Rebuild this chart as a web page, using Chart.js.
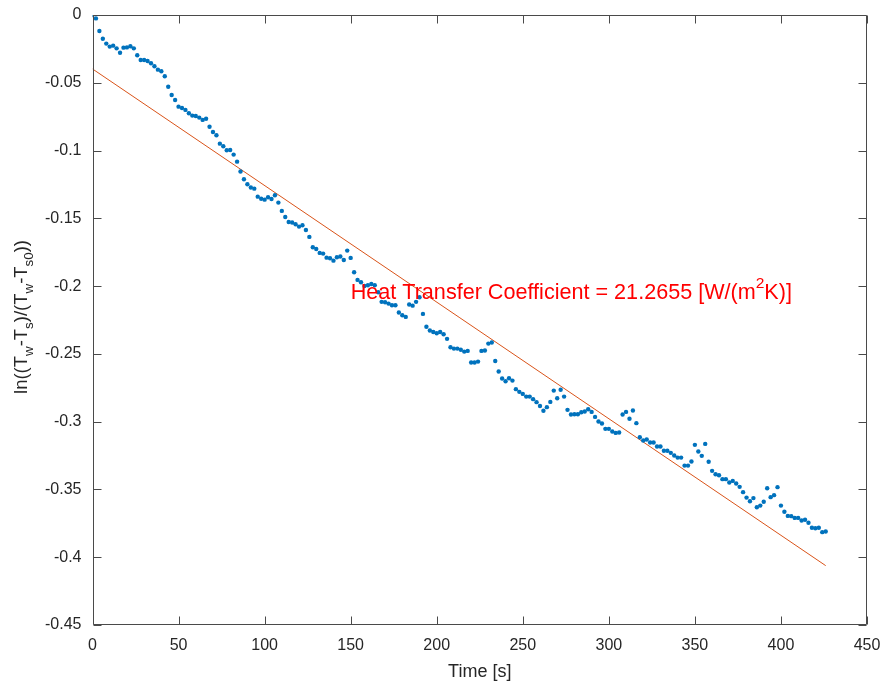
<!DOCTYPE html>
<html>
<head>
<meta charset="utf-8">
<script src="https://cdn.jsdelivr.net/npm/chart.js@4"></script>
<style>
  body { margin: 0; background: #fff; }
  canvas { display: block; }
</style>
</head>
<body>
<canvas id="coolingChart" width="886" height="688"></canvas>
<script>
// measured samples (every 2 s)
const timeS = [
  0, 2, 4, 6, 8, 10, 12, 14, 16, 18, 20, 22, 24, 26, 28, 30, 32, 34, 36, 38,
  40, 42, 44, 46, 48, 50, 52, 54, 56, 58, 60, 62, 64, 66, 68, 70, 72, 74, 76, 78,
  80, 82, 84, 86, 88, 90, 92, 94, 96, 98, 100, 102, 104, 106, 108, 110, 112, 114, 116, 118,
  120, 122, 124, 126, 128, 130, 132, 134, 136, 138, 140, 142, 144, 146, 148, 150, 152, 154, 156, 158,
  160, 162, 164, 166, 168, 170, 172, 174, 176, 178, 180, 182, 184, 186, 188, 190, 192, 194, 196, 198,
  200, 202, 204, 206, 208, 210, 212, 214, 216, 218, 220, 222, 224, 226, 228, 230, 232, 234, 236, 238,
  240, 242, 244, 246, 248, 250, 252, 254, 256, 258, 260, 262, 264, 266, 268, 270, 272, 274, 276, 278,
  280, 282, 284, 286, 288, 290, 292, 294, 296, 298, 300, 302, 304, 306, 308, 310, 312, 314, 316, 318,
  320, 322, 324, 326, 328, 330, 332, 334, 336, 338, 340, 342, 344, 346, 348, 350, 352, 354, 356, 358,
  360, 362, 364, 366, 368, 370, 372, 374, 376, 378, 380, 382, 384, 386, 388, 390, 392, 394, 396, 398,
  400, 402, 404, 406, 408, 410, 412, 414, 416, 418, 420, 422, 424, 426
];
const lnRatio = [
  0, -0.0025, -0.0118, -0.0175, -0.0211, -0.0233, -0.0226, -0.0246, -0.0278, -0.0241,
  -0.0239, -0.0231, -0.0246, -0.0297, -0.0332, -0.0332, -0.0339, -0.0356, -0.0378, -0.0403,
  -0.0415, -0.0452, -0.0529, -0.0590, -0.0627, -0.0676, -0.0686, -0.0700, -0.0725, -0.0742,
  -0.0745, -0.0757, -0.0774, -0.0765, -0.0824, -0.0863, -0.0887, -0.0949, -0.0968, -0.0998,
  -0.0996, -0.1030, -0.1082, -0.1155, -0.1212, -0.1249, -0.1273, -0.1281, -0.1340, -0.1355,
  -0.1362, -0.1345, -0.1357, -0.1330, -0.1384, -0.1445, -0.1490, -0.1527, -0.1531, -0.1544,
  -0.1561, -0.1551, -0.1586, -0.1637, -0.1713, -0.1726, -0.1755, -0.1760, -0.1790, -0.1794,
  -0.1812, -0.1787, -0.1782, -0.1807, -0.1738, -0.1792, -0.1898, -0.1954, -0.1971, -0.1999,
  -0.1994, -0.1984, -0.1994, -0.2045, -0.2116, -0.2119, -0.2129, -0.2141, -0.2141, -0.2195,
  -0.2215, -0.2227, -0.2136, -0.2144, -0.2116, -0.2082, -0.2205, -0.2300, -0.2328, -0.2338,
  -0.2348, -0.2338, -0.2355, -0.2389, -0.2451, -0.2461, -0.2461, -0.2470, -0.2483, -0.2478,
  -0.2564, -0.2564, -0.2557, -0.2478, -0.2475, -0.2424, -0.2416, -0.2552, -0.2630, -0.2682,
  -0.2702, -0.2680, -0.2697, -0.2760, -0.2780, -0.2795, -0.2815, -0.2815, -0.2834, -0.2856,
  -0.2884, -0.2920, -0.2893, -0.2854, -0.2771, -0.2827, -0.2765, -0.2815, -0.2913, -0.2947,
  -0.2945, -0.2945, -0.2930, -0.2925, -0.2908, -0.2928, -0.2965, -0.2999, -0.3014, -0.3053,
  -0.3053, -0.3073, -0.3083, -0.3080, -0.2947, -0.2928, -0.2979, -0.2918, -0.3011, -0.3115,
  -0.3139, -0.3132, -0.3154, -0.3154, -0.3183, -0.3183, -0.3215, -0.3215, -0.3230, -0.3250,
  -0.3265, -0.3265, -0.3324, -0.3324, -0.3294, -0.3171, -0.3220, -0.3252, -0.3164, -0.3296,
  -0.3363, -0.3388, -0.3395, -0.3424, -0.3424, -0.3449, -0.3437, -0.3456, -0.3481, -0.3520,
  -0.3560, -0.3587, -0.3564, -0.3631, -0.3619, -0.3591, -0.3491, -0.3557, -0.3542, -0.3483,
  -0.3619, -0.3665, -0.3695, -0.3697, -0.3710, -0.3710, -0.3729, -0.3724, -0.3746, -0.3783,
  -0.3786, -0.3783, -0.3815, -0.3810
];

// linear fit end points
const fitTime = [0, 426];
const fitValue = [-0.0398, -0.4062];

const xTicks = [0, 50, 100, 150, 200, 250, 300, 350, 400, 450];
const yTicks = [0, -0.05, -0.1, -0.15, -0.2, -0.25, -0.3, -0.35, -0.4, -0.45];
const yTickLabels = ['0', '-0.05', '-0.1', '-0.15', '-0.2', '-0.25', '-0.3', '-0.35', '-0.4', '-0.45'];

const annotation = { x: 150, y: -0.205, value: '21.2655' };

const FONT = '"Liberation Sans", Arial, Helvetica, sans-serif';
const AXIS_COLOR = '#262626';

// draw a list of [text, shift] pieces; shift: 0 normal, 1 superscript, -1 subscript
function pieceWidth(ctx, pieces, size) {
    let w = 0;
    pieces.forEach(function(p) {
        ctx.font = (p[1] ? size * 0.72 : size) + 'px ' + FONT;
        w += ctx.measureText(p[0]).width;
    });
    return w;
}
function drawPieces(ctx, pieces, x, y, size) {
    let cx = x;
    pieces.forEach(function(p) {
        const s = p[1] ? size * 0.72 : size;
        ctx.font = s + 'px ' + FONT;
        const dy = p[1] === 1 ? -size * 0.42 : (p[1] === -1 ? size * 0.3 : 0);
        ctx.fillText(p[0], cx, y + dy);
        cx += ctx.measureText(p[0]).width;
    });
}

const matlabFrame = {
    id: 'matlabFrame',
    afterDatasetsDraw(chart) {
        const ctx = chart.ctx;
        const a = chart.chartArea;
        const xs = chart.scales.x, ys = chart.scales.y;
        const L = Math.round(a.left) + 0.5, R = Math.round(a.right) - 0.5;
        const T = Math.round(a.top) + 0.5, B = Math.round(a.bottom) - 0.5;
        const tick = 8;

        ctx.save();
        ctx.strokeStyle = '#4a4a4a';
        ctx.lineWidth = 1;
        ctx.beginPath();
        ctx.rect(L, T, R - L, B - T);
        xTicks.forEach(function(v) {
            const px = Math.round(xs.getPixelForValue(v)) + 0.5;
            ctx.moveTo(px, B); ctx.lineTo(px, B - tick);
            ctx.moveTo(px, T); ctx.lineTo(px, T + tick);
        });
        yTicks.forEach(function(v) {
            const py = Math.round(ys.getPixelForValue(v)) + 0.5;
            ctx.moveTo(L, py); ctx.lineTo(L + tick, py);
            ctx.moveTo(R, py); ctx.lineTo(R - tick, py);
        });
        ctx.stroke();

        // annotation text
        ctx.fillStyle = '#ff0000';
        ctx.textBaseline = 'middle';
        ctx.textAlign = 'left';
        drawPieces(ctx, [
            ['Heat Transfer Coefficient = ' + annotation.value + ' [W/(m', 0],
            ['2', 1],
            ['K)]', 0]
        ], xs.getPixelForValue(annotation.x), ys.getPixelForValue(annotation.y), 21.6);

        // axis titles
        ctx.fillStyle = AXIS_COLOR;
        ctx.textBaseline = 'alphabetic';
        ctx.font = '18px ' + FONT;
        ctx.textAlign = 'center';
        ctx.fillText('Time [s]', (a.left + a.right) / 2, 677);

        const yl = [
            ['ln((T', 0], ['w', -1], ['-T', 0], ['s', -1], [')/(T', 0],
            ['w', -1], ['-T', 0], ['s0', -1], ['))', 0]
        ];
        ctx.textAlign = 'left';
        const w = pieceWidth(ctx, yl, 18.5);
        ctx.translate(27, (a.top + a.bottom) / 2 - 3);
        ctx.rotate(-Math.PI / 2);
        drawPieces(ctx, yl, -w / 2, 0, 18.5);
        ctx.restore();
    }
};

const ctx = document.getElementById('coolingChart').getContext('2d');
new Chart(ctx, {
    type: 'scatter',
    data: {
        datasets: [
            {
                label: 'measured',
                data: timeS.map(function(t, i) { return { x: t, y: lnRatio[i] }; }),
                backgroundColor: '#0072BD',
                borderWidth: 0,
                pointRadius: 2.2
            },
            {
                label: 'fit',
                type: 'line',
                data: fitTime.map(function(t, i) { return { x: t, y: fitValue[i] }; }),
                borderColor: '#D95319',
                borderWidth: 1,
                pointRadius: 0,
                fill: false
            }
        ]
    },
    options: {
        responsive: false,
        animation: false,
        layout: { autoPadding: false, padding: { top: 15, right: 19, left: 0, bottom: 0 } },
        plugins: {
            legend: { display: false },
            tooltip: { enabled: false }
        },
        scales: {
            x: {
                type: 'linear',
                min: 0,
                max: 450,
                afterBuildTicks: function(scale) { scale.ticks = xTicks.map(function(v) { return { value: v }; }); },
                afterFit: function(scale) {
                    scale.height = 63;
                    scale.paddingLeft = 0;
                    scale.paddingRight = 0;
                },
                grid: { display: false, drawTicks: false },
                border: { display: false },
                ticks: {
                    autoSkip: false,
                    maxRotation: 0,
                    padding: 11,
                    color: AXIS_COLOR,
                    font: { family: FONT, size: 16 }
                }
            },
            y: {
                type: 'linear',
                min: -0.45,
                max: 0,
                afterBuildTicks: function(scale) { scale.ticks = yTicks.map(function(v) { return { value: v }; }); },
                afterFit: function(scale) {
                    scale.width = 92.5;
                    scale.paddingTop = 0;
                    scale.paddingBottom = 0;
                },
                grid: { display: false, drawTicks: false },
                border: { display: false },
                ticks: {
                    autoSkip: false,
                    padding: 11,
                    color: AXIS_COLOR,
                    font: { family: FONT, size: 16 },
                    callback: function(v) { return yTickLabels[yTicks.indexOf(v)]; }
                }
            }
        }
    },
    plugins: [matlabFrame]
});
</script>
</body>
</html>
